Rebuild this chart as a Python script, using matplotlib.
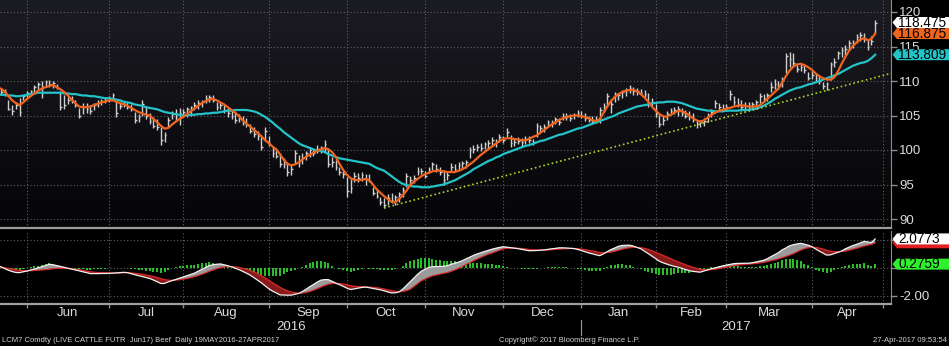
import numpy as np
import pandas as pd
import matplotlib
matplotlib.use("Agg")
import matplotlib.pyplot as plt
import matplotlib.transforms as mtransforms
from matplotlib.patches import Polygon
from matplotlib.colors import LinearSegmentedColormap

plt.rcParams["font.family"] = ["Liberation Sans", "DejaVu Sans"]
plt.rcParams["axes.unicode_minus"] = False

# CME closed on these days
HOLIDAYS = ["2016-05-30", "2016-07-04", "2016-09-05", "2016-11-24", "2016-12-26",
            "2017-01-02", "2017-01-16", "2017-02-20", "2017-04-14"]
START, END = "2016-05-19", "2017-04-27"

HIGH = [109.2, 109.0, 108.9, 107.2, 106.5, 107.0, 107.6, 108.0, 108.5, 108.7,
        109.4, 109.9, 110.0, 110.1, 110.2, 110.0, 109.6, 108.6, 108.0, 107.7,
        107.8, 107.2, 106.1, 106.8, 106.8, 106.5, 106.8, 107.2, 107.4, 107.7,
        107.8, 108.3, 107.0, 107.0, 107.0, 107.0, 106.6, 105.5, 105.2, 107.2,
        106.2, 105.4, 104.8, 104.5, 103.3, 102.6, 104.8, 105.6, 106.0, 106.1,
        105.9, 106.2, 106.4, 107.0, 107.2, 107.3, 107.9, 108.0, 107.9, 107.0,
        107.0, 106.5, 106.2, 105.6, 105.4, 105.2, 104.9, 104.6, 103.8, 103.3,
        102.7, 101.9, 103.3, 102.0, 100.4, 100.2, 99.6, 98.8, 98.3, 97.8,
        100.0, 99.3, 99.5, 99.8, 100.4, 100.2, 100.7, 100.6, 101.4, 100.3,
        99.0, 98.6, 97.5, 97.2, 96.1, 95.8, 96.8, 96.7, 96.8, 96.5,
        96.5, 94.6, 94.4, 93.2, 93.0, 93.6, 93.8, 93.5, 93.9, 94.6,
        96.7, 96.3, 96.4, 97.5, 97.4, 97.0, 97.5, 98.3, 98.0, 97.6,
        97.1, 96.8, 98.1, 97.9, 98.2, 98.4, 98.6, 100.4, 100.7, 100.9,
        101.0, 101.1, 101.4, 101.9, 101.6, 102.3, 102.0, 103.2, 102.2, 101.8,
        101.9, 101.7, 102.0, 102.1, 101.6, 103.9, 103.6, 103.7, 104.3, 104.4,
        104.8, 104.7, 105.4, 105.3, 105.2, 105.4, 105.8, 105.6, 105.3, 105.0,
        105.0, 105.0, 106.2, 106.8, 108.2, 107.2, 108.4, 108.3, 108.7, 109.0,
        109.4, 109.2, 109.0, 108.9, 108.7, 108.2, 107.6, 106.6, 105.1, 104.9,
        105.6, 106.1, 106.3, 106.4, 106.1, 105.8, 105.6, 105.4, 104.3, 104.4,
        104.6, 105.4, 106.0, 107.2, 106.8, 106.7, 106.6, 108.7, 107.8, 107.5,
        107.2, 106.9, 106.9, 107.0, 107.2, 108.2, 108.1, 108.3, 109.9, 110.3,
        110.0, 110.6, 114.0, 114.2, 114.1, 112.3, 112.5, 112.3, 111.3, 111.4,
        111.2, 110.8, 109.9, 109.8, 112.8, 113.3, 114.4, 114.9, 115.2, 115.9,
        115.9, 116.8, 117.1, 116.9, 115.9, 116.5, 118.9]

LOW = [108.2, 108.0, 107.8, 105.8, 105.1, 105.9, 105.0, 107.2, 107.7, 108.0,
       108.3, 108.7, 107.5, 109.1, 109.2, 109.0, 108.8, 105.8, 106.0, 106.6,
       106.8, 106.2, 104.6, 105.2, 105.4, 105.2, 105.8, 106.2, 106.5, 106.8,
       106.9, 107.2, 104.8, 106.0, 106.2, 105.9, 105.6, 103.9, 104.0, 105.0,
       104.5, 103.8, 103.2, 102.9, 100.7, 101.2, 103.3, 104.5, 104.2, 103.6,
       104.8, 104.8, 105.0, 105.8, 106.0, 106.2, 106.8, 107.0, 106.9, 105.8,
       105.9, 105.4, 104.8, 104.5, 103.9, 104.0, 103.6, 103.3, 102.4, 101.9,
       101.5, 100.0, 101.4, 100.6, 99.0, 98.8, 97.5, 97.4, 96.2, 96.4,
       98.0, 97.5, 98.0, 98.6, 99.0, 99.2, 99.6, 99.6, 99.7, 97.5,
       97.6, 97.1, 96.4, 96.0, 93.2, 93.8, 95.4, 95.4, 95.5, 95.0,
       95.3, 93.5, 93.0, 92.0, 91.6, 92.0, 92.3, 92.0, 92.5, 93.2,
       94.6, 95.0, 95.2, 96.4, 96.5, 95.9, 96.6, 97.1, 96.8, 96.4,
       95.0, 95.6, 96.8, 96.9, 97.0, 97.2, 97.4, 98.8, 99.6, 99.8,
       99.9, 100.1, 100.2, 100.7, 100.5, 101.2, 101.0, 101.9, 100.4, 100.6,
       100.8, 100.6, 100.8, 101.0, 100.7, 101.9, 102.4, 102.6, 103.3, 103.3,
       103.8, 103.6, 104.3, 104.4, 104.2, 104.5, 104.8, 104.6, 104.2, 104.0,
       103.9, 103.9, 103.9, 105.5, 106.2, 105.4, 107.0, 107.2, 107.6, 107.8,
       108.3, 108.0, 107.9, 108.0, 107.7, 106.2, 106.4, 104.8, 103.3, 103.6,
       104.3, 105.1, 105.2, 105.0, 104.9, 104.6, 104.3, 104.0, 103.2, 103.3,
       103.5, 104.0, 104.8, 106.1, 105.6, 105.8, 105.7, 107.2, 106.5, 106.2,
       105.6, 105.7, 105.8, 105.9, 106.0, 106.8, 106.9, 107.1, 108.4, 108.8,
       108.8, 109.2, 111.1, 112.0, 112.1, 111.3, 111.4, 111.2, 110.1, 110.3,
       110.0, 109.6, 108.8, 108.7, 110.1, 112.0, 113.2, 113.5, 113.8, 114.5,
       114.8, 115.5, 115.8, 115.6, 114.5, 115.2, 117.0]

CLOSE = [108.8, 108.4, 108.6, 106.0, 105.6, 106.5, 105.5, 107.8, 108.2, 108.5,
         109.1, 109.6, 109.2, 109.8, 109.5, 109.7, 109.0, 106.2, 106.5, 107.3,
         107.0, 106.5, 105.0, 106.2, 106.0, 105.6, 106.5, 107.0, 107.1, 107.5,
         107.4, 108.0, 105.3, 106.4, 106.7, 106.3, 105.9, 104.3, 104.8, 106.6,
         105.0, 104.2, 103.5, 103.3, 101.4, 102.2, 104.4, 105.2, 104.8, 105.4,
         105.5, 105.9, 106.2, 106.5, 106.8, 107.0, 107.6, 107.7, 107.2, 106.3,
         106.5, 105.8, 105.3, 105.0, 104.3, 104.6, 104.0, 103.7, 102.8, 102.3,
         102.0, 100.4, 102.8, 101.0, 99.5, 99.2, 98.0, 97.9, 96.8, 97.3,
         99.5, 98.4, 98.8, 99.5, 100.0, 99.6, 100.2, 100.1, 100.8, 98.0,
         98.2, 97.6, 96.8, 96.5, 94.0, 94.5, 96.2, 96.0, 96.4, 95.8,
         95.5, 93.8, 93.4, 92.4, 92.0, 93.1, 92.8, 93.2, 93.6, 94.2,
         96.3, 95.7, 96.0, 97.0, 96.9, 96.3, 97.2, 97.9, 97.2, 96.8,
         95.6, 96.4, 97.5, 97.3, 97.8, 98.1, 98.2, 100.0, 100.2, 100.5,
         100.3, 100.8, 101.0, 101.5, 101.0, 101.9, 101.4, 102.6, 101.0, 101.2,
         101.3, 101.1, 101.6, 101.5, 101.2, 103.5, 103.2, 103.3, 104.0, 103.8,
         104.5, 104.1, 105.0, 104.8, 104.6, 105.1, 105.4, 104.9, 104.6, 104.4,
         104.2, 104.3, 105.8, 106.4, 107.8, 106.6, 108.1, 108.0, 108.4, 108.7,
         109.0, 108.5, 108.6, 108.3, 108.1, 106.6, 106.9, 105.2, 103.8, 104.4,
         105.2, 105.7, 105.8, 106.0, 105.4, 105.0, 104.9, 104.5, 103.8, 104.0,
         104.2, 105.1, 105.5, 106.8, 106.2, 106.0, 106.3, 108.1, 107.0, 106.6,
         106.2, 106.4, 106.3, 106.7, 106.9, 107.8, 107.5, 108.0, 109.2, 109.5,
         109.3, 110.2, 113.6, 113.2, 112.6, 111.8, 112.0, 111.6, 110.5, 110.9,
         110.4, 110.0, 109.3, 109.5, 112.4, 112.8, 114.0, 114.5, 114.7, 115.5,
         115.3, 116.4, 116.6, 116.2, 114.9, 115.8, 118.475]

MA_FAST = [109.0, 108.9, 108.5, 107.8, 107.2, 106.8, 106.5, 106.9, 107.4, 107.8,
           108.2, 108.6, 108.9, 109.1, 109.3, 109.4, 109.1, 108.8, 108.4, 107.9,
           107.3, 106.8, 106.3, 106.2, 106.2, 106.3, 106.5, 106.7, 106.9, 107.0,
           107.2, 107.2, 107.0, 106.8, 106.6, 106.4, 106.1, 105.8, 105.5, 105.3,
           105.1, 105.0, 104.5, 104.0, 103.5, 103.1, 103.2, 103.7, 104.1, 104.5,
           104.8, 105.2, 105.6, 106.0, 106.4, 106.8, 107.1, 107.3, 107.4, 107.2,
           106.9, 106.6, 106.2, 105.8, 105.4, 104.9, 104.3, 103.8, 103.4, 102.9,
           102.5, 102.0, 101.4, 101.0, 100.5, 100.1, 99.4, 98.6, 98.0, 97.8,
           97.9, 98.2, 98.6, 99.0, 99.3, 99.6, 99.9, 100.1, 100.3, 100.1,
           99.7, 99.0, 98.0, 97.1, 96.4, 95.9, 95.7, 95.6, 95.7, 95.8,
           95.6, 95.0, 94.3, 93.8, 93.3, 92.9, 92.5, 92.4, 92.9, 93.4,
           94.1, 94.9, 95.4, 95.8, 96.2, 96.5, 96.7, 96.9, 97.0, 97.0,
           96.9, 96.8, 96.8, 96.8, 97.0, 97.2, 97.5, 97.9, 98.3, 98.8,
           99.3, 99.7, 100.1, 100.5, 100.9, 101.3, 101.6, 101.7, 101.7, 101.6,
           101.5, 101.4, 101.4, 101.6, 101.9, 102.1, 102.5, 102.9, 103.3, 103.7,
           104.0, 104.3, 104.6, 104.8, 104.9, 105.0, 105.0, 104.9, 104.8, 104.6,
           104.3, 104.2, 104.5, 105.4, 106.3, 107.1, 107.7, 108.1, 108.4, 108.6,
           108.7, 108.7, 108.5, 108.1, 107.6, 107.0, 106.3, 105.7, 105.2, 104.9,
           104.8, 105.1, 105.4, 105.7, 105.6, 105.4, 105.0, 104.6, 104.3, 104.1,
           104.3, 104.7, 105.1, 105.4, 105.7, 105.8, 106.0, 106.1, 106.3, 106.4,
           106.5, 106.4, 106.3, 106.3, 106.3, 106.5, 106.9, 107.4, 107.9, 108.4,
           108.9, 109.8, 110.7, 111.5, 112.1, 112.4, 112.5, 112.3, 112.0, 111.6,
           111.1, 110.7, 110.4, 110.2, 110.2, 110.5, 111.4, 112.5, 113.5, 114.4,
           115.1, 115.6, 116.0, 116.2, 115.9, 116.1, 116.875]

MA_SLOW = [108.0, 108.0, 108.0, 107.9, 107.9, 107.8, 107.8, 107.9, 108.0, 108.1,
           108.2, 108.3, 108.3, 108.3, 108.3, 108.3, 108.3, 108.3, 108.2, 108.2,
           108.1, 108.1, 108.0, 107.9, 107.9, 107.8, 107.8, 107.7, 107.6, 107.5,
           107.5, 107.4, 107.3, 107.2, 107.0, 106.9, 106.8, 106.6, 106.5, 106.4,
           106.2, 106.1, 106.0, 105.9, 105.7, 105.5, 105.4, 105.3, 105.2, 105.1,
           105.0, 105.0, 105.1, 105.1, 105.2, 105.2, 105.3, 105.3, 105.4, 105.4,
           105.5, 105.6, 105.7, 105.7, 105.8, 105.8, 105.8, 105.8, 105.7, 105.6,
           105.4, 105.1, 104.8, 104.4, 104.0, 103.5, 103.1, 102.6, 102.2, 101.8,
           101.4, 101.0, 100.7, 100.5, 100.3, 100.1, 99.9, 99.9, 99.7, 99.4,
           99.2, 99.0, 98.8, 98.7, 98.6, 98.5, 98.4, 98.3, 98.2, 98.1,
           98.0, 97.7, 97.4, 97.2, 97.0, 96.6, 96.2, 95.8, 95.4, 95.1,
           94.9, 94.8, 94.7, 94.7, 94.6, 94.6, 94.6, 94.7, 94.8, 94.9,
           95.0, 95.2, 95.4, 95.6, 95.9, 96.2, 96.5, 96.8, 97.2, 97.5,
           97.8, 98.1, 98.4, 98.6, 98.9, 99.1, 99.4, 99.6, 99.8, 100.0,
           100.2, 100.4, 100.6, 100.7, 100.9, 101.1, 101.3, 101.4, 101.6, 101.8,
           102.0, 102.2, 102.3, 102.5, 102.7, 102.9, 103.1, 103.2, 103.4, 103.6,
           103.8, 104.0, 104.2, 104.4, 104.6, 104.8, 105.0, 105.3, 105.5, 105.7,
           105.9, 106.1, 106.3, 106.4, 106.5, 106.6, 106.8, 106.8, 106.9, 106.9,
           107.0, 107.0, 107.0, 106.9, 106.8, 106.6, 106.4, 106.2, 106.0, 105.9,
           105.8, 105.7, 105.7, 105.6, 105.6, 105.6, 105.7, 105.7, 105.7, 105.7,
           105.8, 105.8, 105.8, 105.9, 106.0, 106.2, 106.4, 106.7, 107.0, 107.4,
           107.7, 108.0, 108.3, 108.6, 108.8, 109.0, 109.1, 109.3, 109.5, 109.6,
           109.8, 110.0, 110.2, 110.4, 110.6, 110.8, 111.0, 111.3, 111.6, 111.9,
           112.2, 112.4, 112.6, 112.7, 112.9, 113.3, 113.809]

MACD = [0.12, 0.09, -0.04, -0.16, -0.25, -0.32, -0.33, -0.27, -0.22, -0.14,
        -0.07, 0.01, 0.09, 0.18, 0.26, 0.23, 0.17, 0.11, 0.05, -0.02,
        -0.08, -0.14, -0.20, -0.27, -0.33, -0.40, -0.40, -0.40, -0.39, -0.39,
        -0.38, -0.37, -0.35, -0.33, -0.31, -0.33, -0.41, -0.48, -0.55, -0.61,
        -0.68, -0.75, -0.86, -0.98, -1.11, -1.10, -0.99, -0.90, -0.82, -0.73,
        -0.64, -0.55, -0.46, -0.37, -0.23, -0.10, 0.04, 0.17, 0.23, 0.27,
        0.29, 0.23, 0.16, 0.08, -0.02, -0.12, -0.24, -0.37, -0.51, -0.69,
        -0.87, -1.06, -1.27, -1.48, -1.65, -1.78, -1.92, -1.93, -1.94, -1.94,
        -1.88, -1.82, -1.69, -1.52, -1.34, -1.18, -1.01, -0.87, -0.83, -0.83,
        -0.95, -1.08, -1.19, -1.31, -1.44, -1.54, -1.49, -1.44, -1.39, -1.36,
        -1.41, -1.46, -1.51, -1.56, -1.63, -1.71, -1.78, -1.77, -1.71, -1.51,
        -1.25, -0.99, -0.72, -0.45, -0.23, -0.09, 0.04, 0.09, 0.10, 0.11,
        0.12, 0.17, 0.26, 0.34, 0.42, 0.52, 0.65, 0.77, 0.90, 1.00,
        1.09, 1.18, 1.26, 1.34, 1.41, 1.47, 1.52, 1.49, 1.45, 1.42,
        1.38, 1.33, 1.28, 1.23, 1.24, 1.25, 1.27, 1.29, 1.33, 1.37,
        1.40, 1.44, 1.44, 1.43, 1.41, 1.39, 1.33, 1.25, 1.16, 1.08,
        1.01, 0.94, 0.88, 1.02, 1.17, 1.32, 1.43, 1.55, 1.61, 1.62,
        1.63, 1.56, 1.47, 1.37, 1.20, 1.03, 0.85, 0.67, 0.48, 0.37,
        0.28, 0.19, 0.12, 0.06, -0.02, -0.11, -0.19, -0.24, -0.27, -0.30,
        -0.21, -0.13, -0.05, 0.01, 0.08, 0.15, 0.21, 0.26, 0.31, 0.33,
        0.33, 0.34, 0.34, 0.38, 0.43, 0.49, 0.55, 0.66, 0.81, 0.95,
        1.10, 1.29, 1.43, 1.58, 1.66, 1.72, 1.76, 1.70, 1.63, 1.52,
        1.36, 1.20, 1.06, 0.92, 0.94, 1.03, 1.12, 1.22, 1.37, 1.49,
        1.60, 1.69, 1.79, 1.90, 1.86, 1.82, 2.0773]

SIGNAL = [0.07, 0.05, 0.02, -0.03, -0.08, -0.13, -0.17, -0.19, -0.20, -0.19,
          -0.18, -0.16, -0.14, -0.12, -0.08, -0.05, -0.03, -0.02, -0.02, -0.03,
          -0.05, -0.08, -0.12, -0.17, -0.22, -0.27, -0.30, -0.33, -0.34, -0.35,
          -0.36, -0.36, -0.36, -0.35, -0.34, -0.34, -0.35, -0.38, -0.41, -0.45,
          -0.50, -0.55, -0.61, -0.68, -0.76, -0.83, -0.87, -0.88, -0.87, -0.84,
          -0.80, -0.75, -0.69, -0.62, -0.54, -0.45, -0.35, -0.24, -0.14, -0.05,
          0.03, 0.08, 0.10, 0.10, 0.08, 0.04, -0.02, -0.09, -0.18, -0.29,
          -0.41, -0.55, -0.71, -0.88, -1.05, -1.22, -1.38, -1.52, -1.63, -1.72,
          -1.77, -1.80, -1.79, -1.75, -1.68, -1.59, -1.48, -1.36, -1.25, -1.16,
          -1.11, -1.10, -1.11, -1.15, -1.20, -1.26, -1.31, -1.33, -1.34, -1.35,
          -1.36, -1.38, -1.41, -1.45, -1.50, -1.56, -1.62, -1.67, -1.70, -1.68,
          -1.62, -1.52, -1.32, -1.12, -0.91, -0.79, -0.66, -0.56, -0.50, -0.44,
          -0.38, -0.33, -0.24, -0.14, -0.03, 0.10, 0.25, 0.37, 0.52, 0.64,
          0.76, 0.88, 0.99, 1.07, 1.17, 1.27, 1.36, 1.40, 1.42, 1.42,
          1.41, 1.39, 1.36, 1.32, 1.30, 1.29, 1.28, 1.28, 1.29, 1.31,
          1.33, 1.35, 1.37, 1.38, 1.39, 1.39, 1.38, 1.35, 1.31, 1.26,
          1.21, 1.16, 1.10, 1.08, 1.10, 1.14, 1.20, 1.27, 1.34, 1.40,
          1.45, 1.47, 1.47, 1.45, 1.40, 1.33, 1.23, 1.12, 1.01, 0.90,
          0.79, 0.67, 0.55, 0.44, 0.34, 0.24, 0.14, 0.05, -0.03, -0.10,
          -0.13, -0.13, -0.11, -0.08, -0.04, 0.01, 0.06, 0.11, 0.16, 0.20,
          0.23, 0.26, 0.28, 0.30, 0.33, 0.36, 0.40, 0.45, 0.52, 0.58,
          0.65, 0.74, 0.82, 0.92, 1.02, 1.15, 1.28, 1.38, 1.45, 1.48,
          1.47, 1.42, 1.35, 1.26, 1.20, 1.17, 1.16, 1.17, 1.21, 1.27,
          1.34, 1.41, 1.49, 1.57, 1.63, 1.68, 1.8014]

# support line drawn from the October low
TREND = [("2016-10-17", 91.6), ("2017-04-27", 110.5)]

FOOT_LEFT = "LCM7 Comdty (LIVE CATTLE FUTR  Jun17) Beef  Daily 19MAY2016-27APR2017"
FOOT_MID = "Copyright\u00a9 2017 Bloomberg Finance L.P."
FOOT_RIGHT = "27-Apr-2017 09:53:54"

# ---- layout (pixels) ----
W, H = 949, 346
PLOT_R = 891            # right edge of both panels
TOP_BOT = 228           # bottom of the price panel
LOW_TOP, LOW_BOT = 231, 304
PX_DAY, PX_OFF = 3.72, -2.76

dates = pd.bdate_range(START, END, freq="C", holidays=HOLIDAYS)
n = len(dates)
x = np.arange(n)
hi, lo, cl = np.array(HIGH), np.array(LOW), np.array(CLOSE)
macd, sig = np.array(MACD), np.array(SIGNAL)
hist = macd - sig

# first trading day of every month (one month past the data for the last grid line)
cal = pd.bdate_range(START, "2017-05-10", freq="C", holidays=HOLIDAYS)
mstart = [i for i in range(1, len(cal)) if cal[i].month != cal[i - 1].month]

xmin = (0 - PX_OFF) / PX_DAY
xmax = (PLOT_R - PX_OFF) / PX_DAY

fig = plt.figure(figsize=(W / 100, H / 100), dpi=100, facecolor="black")
ax1 = fig.add_axes([0, (H - TOP_BOT) / H, PLOT_R / W, TOP_BOT / H])
ax2 = fig.add_axes([0, (H - LOW_BOT) / H, PLOT_R / W, (LOW_BOT - LOW_TOP) / H])

grid_kw = dict(color="#606066", linestyle=(0, (1, 2)), linewidth=0.8)
text_c = "#dcdcdc"
spine_c = "#8c8c8c"

# price panel background gradient
grad = LinearSegmentedColormap.from_list("bg", ["#050507", "#1b1b22"])
ax1.set_facecolor("black")
ax1.imshow(np.linspace(0, 1, 200).reshape(-1, 1), extent=[0, 1, 0, 1],
           transform=ax1.transAxes, aspect="auto", cmap=grad, origin="lower", zorder=-5)

# ---- price panel ----
ax1.vlines(x, lo, hi, color="#cfcfcf", linewidth=1.0, zorder=3)
ax1.hlines(cl, x, x + 0.45, color="#cfcfcf", linewidth=1.0, zorder=3)
ax1.plot(x, MA_SLOW, color="#23c3c8", linewidth=1.6, zorder=4)
ax1.plot(x, MA_FAST, color="#f0641e", linewidth=1.6, zorder=5)

t0 = dates.get_loc(pd.Timestamp(TREND[0][0]))
t1 = dates.get_loc(pd.Timestamp(TREND[1][0]))
slope = (TREND[1][1] - TREND[0][1]) / (t1 - t0)
ax1.plot([t0, xmax + 1], [TREND[0][1], TREND[0][1] + slope * (xmax + 1 - t0)],
         color="#a8d42c", linestyle=(0, (1, 1.6)), linewidth=1.2, zorder=4)

ax1.set_xlim(xmin, xmax)
ax1.set_ylim(120 - (TOP_BOT - 12) / 6.9, 120 + 12 / 6.9)
ax1.set_yticks(np.arange(90, 121, 5))
ax1.set_xticks(mstart)
ax1.set_xticklabels([])
ax1.grid(True, **grid_kw)
ax1.set_axisbelow(True)
ax1.yaxis.tick_right()
ax1.tick_params(axis="y", direction="out", length=4, width=1, color=spine_c,
                labelcolor=text_c, labelsize=9.5, pad=2)
ax1.tick_params(axis="x", length=0)
for s in ("left", "top"):
    ax1.spines[s].set_visible(False)
ax1.spines["right"].set_color(spine_c)
ax1.spines["bottom"].set_color("#9a9a9a")
ax1.spines["bottom"].set_linewidth(1.6)

# ---- MACD panel ----
ax2.set_facecolor("black")
ax2.vlines(x, 0, hist, color="#2fd42f", linewidth=1.3, zorder=2)
ax2.fill_between(x, macd, sig, where=macd >= sig, interpolate=True,
                 color="#9b9b9b", linewidth=0, zorder=3)
ax2.fill_between(x, macd, sig, where=macd < sig, interpolate=True,
                 color="#8a1a1a", linewidth=0, zorder=3)
ax2.plot(x, sig, color="#d82a2a", linewidth=0.9, zorder=4)
ax2.plot(x, macd, color="#f2f2f2", linewidth=0.9, zorder=5)

ax2.set_xlim(xmin, xmax)
ax2.set_ylim((268 - LOW_BOT) / 14, (268 - LOW_TOP) / 14)
ax2.set_yticks([-2, 0, 2])
# the 0.00 and 2.00 labels sit under the value flags
ax2.set_yticklabels(["%.2f" % -2, "", ""])
ax2.set_xticks(mstart)
ax2.set_xticklabels([])
ax2.grid(True, **grid_kw)
ax2.set_axisbelow(True)
ax2.yaxis.tick_right()
ax2.tick_params(axis="y", direction="out", length=4, width=1, color=spine_c,
                labelcolor=text_c, labelsize=9.5, pad=2)
ax2.tick_params(axis="x", direction="out", length=3, width=1, color=spine_c)
for s in ("left", "top"):
    ax2.spines[s].set_visible(False)
ax2.spines["right"].set_color(spine_c)
ax2.spines["bottom"].set_color("#a0a0a0")
ax2.spines["bottom"].set_linewidth(1.6)

# month names between grid lines, years underneath
bt = mtransforms.blended_transform_factory(ax2.transData, ax2.transAxes)
for a, b in zip(mstart[:-1], mstart[1:]):
    ax2.text((a + b) / 2, -0.125, dates[a].strftime("%b"), transform=bt,
             ha="center", va="center", color=text_c, fontsize=9.5, clip_on=False)
jan = [i for i in mstart if cal[i].month == 1][0]
ax2.text((xmin + jan) / 2, -0.315, "2016", transform=bt, ha="center", va="center",
         color=text_c, fontsize=9.5, clip_on=False)
ax2.text((jan + xmax) / 2, -0.315, "2017", transform=bt, ha="center", va="center",
         color=text_c, fontsize=9.5, clip_on=False)
ax2.plot([jan, jan], [-0.22, -0.42], transform=bt, color="#9a9a9a",
         linewidth=0.8, clip_on=False)


def tag(ax, y, text, face, z):
    """Value flag on the right axis, pointing at y."""
    tr = mtransforms.blended_transform_factory(ax.transAxes, ax.transData)
    hpx = ax.get_position().height * H
    lo_, hi_ = ax.get_ylim()
    dh = 5.5 * (hi_ - lo_) / hpx
    w = PLOT_R
    pts = [(1 + 1.5 / w, y), (1 + 6 / w, y + dh), (1 + 70 / w, y + dh),
           (1 + 70 / w, y - dh), (1 + 6 / w, y - dh)]
    ax.add_patch(Polygon(pts, closed=True, facecolor=face, edgecolor="none",
                         transform=tr, clip_on=False, zorder=z))
    if text:
        ax.text(1 + 7 / w, y, text, transform=tr, ha="left", va="center",
                fontsize=9.8, color="black", zorder=z + 0.1, clip_on=False)


tag(ax1, MA_SLOW[-1], "%.3f" % MA_SLOW[-1], "#23c3c8", 10)
tag(ax1, MA_FAST[-1], "%.3f" % MA_FAST[-1], "#f0641e", 11)
tag(ax1, CLOSE[-1], "%.3f" % CLOSE[-1], "#ffffff", 12)
# signal flag is covered by the MACD flag, only its lower edge shows
tag(ax2, SIGNAL[-1], "", "#e02020", 10)
tag(ax2, MACD[-1], "%.4f" % MACD[-1], "#ffffff", 11)
tag(ax2, hist[-1], "%.4f" % hist[-1], "#2ff02f", 12)

# footer
fy = 1 - 340 / H
fig.text(2 / W, fy, FOOT_LEFT, color="#d0d0d0", fontsize=5.5, va="center", ha="left")
fig.text(499 / W, fy, FOOT_MID, color="#d0d0d0", fontsize=5.5, va="center", ha="left")
fig.text(947 / W, fy, FOOT_RIGHT, color="#d0d0d0", fontsize=5.5, va="center", ha="right")

fig.savefig("out.png", dpi=100, facecolor="black")
